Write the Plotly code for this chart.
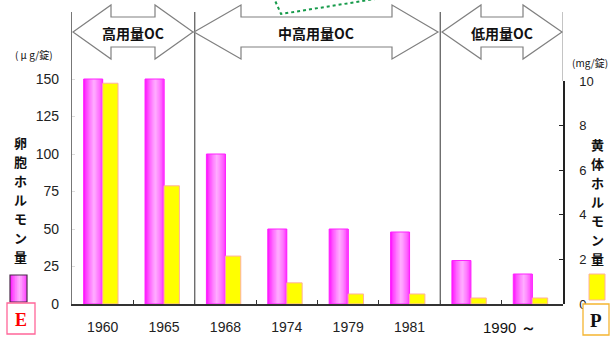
import plotly.graph_objects as go

# Oral contraceptive hormone content per tablet, by year of introduction
years = ["1960", "1965", "1968", "1974", "1979", "1981", "1990a", "1990b"]
year_labels = ["1960", "1965", "1968", "1974", "1979", "1981"]
estrogen_ug = [150, 150, 100, 50, 50, 48, 29, 20]          # 卵胞ホルモン (μg/錠)
progestin_mg = [9.9, 5.3, 2.15, 0.95, 0.45, 0.45, 0.27, 0.27]  # 黄体ホルモン (mg/錠)
left_ticks = [0, 25, 50, 75, 100, 125, 150]
right_ticks = [0, 2, 4, 6, 8, 10]

W, H = 615, 341
def px(x):
    return x / W
def py(y):
    return 1 - y / H

xpos = list(range(len(years)))
X0, X1 = 72, 563          # plot area left/right (px)
YB, YT, YT2 = 304, 12, 81  # bottom, top of left axis, top of right axis (px)

CJK = "Noto Sans CJK JP"
NUM = "Liberation Sans"

def cyl_color(t):
    # light centre, magenta edges: cylinder shading of the estrogen bars
    k = max(0.0, 1 - abs(t - 0.55) / 0.55) ** 0.7
    g = int(round(175 * k))
    return f"rgb(255,{g},255)"

fig = go.Figure()

# Estrogen bars drawn as overlapping vertical strips to give the shaded look
BW_E = 0.31
N = 14
for i in range(N):
    start = -BW_E + BW_E * i / N
    fig.add_trace(go.Bar(
        x=xpos, y=estrogen_ug, xaxis="x", yaxis="y",
        offset=start, width=-start,
        marker=dict(color=cyl_color((i + 0.5) / N), line=dict(width=0)),
        hoverinfo="skip", showlegend=False,
    ))
fig.add_trace(go.Bar(
    x=xpos, y=estrogen_ug, xaxis="x", yaxis="y",
    offset=-BW_E, width=BW_E,
    marker=dict(color="rgba(0,0,0,0)", line=dict(color="#ff22ff", width=1)),
    hoverinfo="skip", showlegend=False,
))

# Progestin bars on the right-hand axis
fig.add_trace(go.Bar(
    x=xpos, y=progestin_mg, xaxis="x", yaxis="y2",
    offset=0, width=0.25,
    marker=dict(color="#ffff00", line=dict(color="#ffb0a0", width=1)),
    hoverinfo="skip", showlegend=False,
))

# helper trace so the boundary-tick axis is rendered
fig.add_trace(go.Scatter(x=[0], y=[0], xaxis="x2", yaxis="y", mode="markers",
                         marker=dict(opacity=0), hoverinfo="skip", showlegend=False))

shapes = []

# group separators and top part of the right frame
for xb in (1.5, 5.5):
    shapes.append(dict(type="line", xref="x", yref="paper", x0=xb, x1=xb,
                       y0=py(YB), y1=py(YT), line=dict(color="#555555", width=1.2)))
shapes.append(dict(type="line", xref="x", yref="paper", x0=7.5, x1=7.5,
                   y0=py(YT2), y1=py(YT), line=dict(color="#888888", width=1)))

# double-headed block arrows for the dosage eras
def block_arrow(xl, xr, hl, hr, cy=32, hh=27, sh=15):
    pts = [(xl, cy), (xl + hl, cy - hh), (xl + hl, cy - sh), (xr - hr, cy - sh),
           (xr - hr, cy - hh), (xr, cy), (xr - hr, cy + hh), (xr - hr, cy + sh),
           (xl + hl, cy + sh), (xl + hl, cy + hh)]
    path = "M " + " L ".join(f"{px(a):.5f},{py(b):.5f}" for a, b in pts) + " Z"
    return dict(type="path", xref="paper", yref="paper", path=path,
                fillcolor="white", line=dict(color="#808080", width=1.2))

shapes.append(block_arrow(73, 193, 38, 38))
shapes.append(block_arrow(194, 438, 47, 46))
shapes.append(block_arrow(442, 562, 39, 39))

# dotted green outline entering from the top
gpts = [(273, -4), (281, 14), (375, -1)]
shapes.append(dict(type="path", xref="paper", yref="paper",
                   path="M " + " L ".join(f"{px(a):.5f},{py(b):.5f}" for a, b in gpts),
                   line=dict(color="#169a4a", width=2, dash="dot")))

# legend swatch: estrogen (shaded magenta)
sx0, sx1, sy0, sy1 = 10, 27, 275, 302
M = 10
for i in range(M):
    a = sx0 + (sx1 - sx0) * i / M
    shapes.append(dict(type="rect", xref="paper", yref="paper",
                       x0=px(a), x1=px(sx1), y0=py(sy1), y1=py(sy0),
                       fillcolor=cyl_color((i + 0.5) / M), line=dict(width=0)))
shapes.append(dict(type="rect", xref="paper", yref="paper",
                   x0=px(sx0), x1=px(sx1), y0=py(sy1), y1=py(sy0),
                   line=dict(color="#4a2a4a", width=1.2)))
# legend swatch: progestin (yellow)
shapes.append(dict(type="rect", xref="paper", yref="paper",
                   x0=px(589), x1=px(605), y0=py(300), y1=py(274),
                   fillcolor="#ffff00", line=dict(color="#ffb0a0", width=1)))
# E / P boxes
shapes.append(dict(type="rect", xref="paper", yref="paper",
                   x0=px(7), x1=px(35), y0=py(334), y1=py(303),
                   fillcolor="white", line=dict(color="#ff6699", width=1.3)))
shapes.append(dict(type="rect", xref="paper", yref="paper",
                   x0=px(583), x1=px(609), y0=py(335), y1=py(304),
                   fillcolor="white", line=dict(color="#f5b531", width=1.3)))

annotations = []

def label(x, y, text, size, family=CJK, color="#111111", **kw):
    annotations.append(dict(xref="paper", yref="paper", x=px(x), y=py(y),
                            text=text, showarrow=False, xanchor="center",
                            yanchor="middle", font=dict(family=family, size=size, color=color),
                            **kw))

label(133, 33, "<b>高用量OC</b>", 14)
label(316, 33, "<b>中高用量OC</b>", 14)
label(502, 33, "<b>低用量OC</b>", 14)

label(34, 55, "( μ g/錠)", 10)
label(590, 62, "(mg/錠)", 10)

# vertical axis titles, stacked one character at a time
def vertical_title(x, ymid, text, size=13, step=19):
    n = len(text)
    for i, ch in enumerate(text):
        label(x, ymid + (i - (n - 1) / 2) * step, f"<b>{ch}</b>", size)

vertical_title(20, 199.5, "卵胞ホルモン量")
vertical_title(597, 201.5, "黄体ホルモン量")

label(21, 320, "<b>E</b>", 18, family="Liberation Serif", color="#ff0000")
label(596, 320, "<b>P</b>", 19, family="Liberation Serif", color="#111111")

label(509, 327, "1990 <b>～</b>", 15, family=NUM, color="#111111")

fig.update_layout(
    width=W, height=H,
    margin=dict(l=0, r=0, t=0, b=0, autoexpand=False),
    paper_bgcolor="white", plot_bgcolor="rgba(0,0,0,0)",
    barmode="overlay", showlegend=False,
    shapes=shapes, annotations=annotations,
    xaxis=dict(domain=[px(X0), px(X1)], range=[-0.5, 7.5], anchor="y",
               tickmode="array", tickvals=xpos[:6], ticktext=year_labels,
               ticks="", showline=True, linecolor="#333333", linewidth=1.5,
               showgrid=False, zeroline=False, ticklabelstandoff=9, automargin=False,
               tickfont=dict(family=NUM, size=14, color="#222222")),
    xaxis2=dict(overlaying="x", matches="x", anchor="y", range=[-0.5, 7.5],
                tickmode="array", tickvals=[0.5, 1.5, 2.5, 3.5, 4.5, 5.5, 6.5],
                ticks="inside", ticklen=4, tickwidth=1.3, tickcolor="#333333",
                showticklabels=False, showline=False, showgrid=False, zeroline=False,
                automargin=False),
    yaxis=dict(domain=[py(YB), py(YT)], range=[0, (YB - YT) / 1.5], anchor="x",
               tickmode="array", tickvals=left_ticks,
               ticks="inside", ticklen=3, tickcolor="#dddddd",
               showline=True, linecolor="#777777", linewidth=1.2,
               showgrid=False, zeroline=False, ticklabelstandoff=9, automargin=False,
               tickfont=dict(family=NUM, size=14, color="#222222")),
    yaxis2=dict(domain=[py(YB), py(YT2)], range=[0, 10], anchor="x", side="right",
                tickmode="array", tickvals=right_ticks,
                ticks="inside", ticklen=4, tickwidth=1.3, tickcolor="#222222",
                showline=True, linecolor="#222222", linewidth=1.5,
                showgrid=False, zeroline=False, ticklabelstandoff=12, automargin=False,
                tickfont=dict(family=NUM, size=13, color="#222222")),
)

fig.write_html("out.html")
